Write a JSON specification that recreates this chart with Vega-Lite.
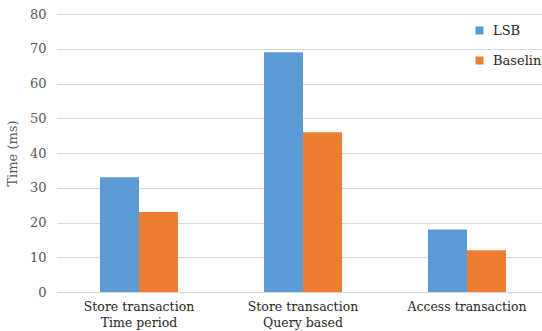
{
  "$schema": "https://vega.github.io/schema/vega-lite/v6.json",
  "autosize": "none",
  "width": 492,
  "height": 278,
  "padding": {"left": 57, "top": 14, "right": 0, "bottom": 39},
  "background": "white",
  "data": {
    "values": [
      {"category": "Store transaction|Time period", "series": "LSB", "time": 33},
      {"category": "Store transaction|Time period", "series": "Baseline", "time": 23},
      {"category": "Store transaction|Query based", "series": "LSB", "time": 69},
      {"category": "Store transaction|Query based", "series": "Baseline", "time": 46},
      {"category": "Access transaction", "series": "LSB", "time": 18},
      {"category": "Access transaction", "series": "Baseline", "time": 12}
    ]
  },
  "config": {
    "view": {"stroke": null},
    "font": "DejaVu Serif",
    "axis": {"labelFont": "DejaVu Serif", "titleFont": "DejaVu Serif"},
    "legend": {"labelFont": "DejaVu Serif"}
  },
  "mark": {"type": "bar"},
  "encoding": {
    "x": {
      "field": "category",
      "type": "nominal",
      "sort": null,
      "scale": {"paddingInner": 0.524, "paddingOuter": 0.262},
      "axis": {
        "title": null,
        "labelAngle": 0,
        "labelExpr": "split(datum.label, '|')",
        "labelFontSize": 12.5,
        "labelColor": "#262626",
        "labelLineHeight": 16,
        "labelPadding": 8,
        "ticks": false,
        "domain": false,
        "grid": false
      }
    },
    "xOffset": {"field": "series", "type": "nominal", "sort": ["LSB", "Baseline"]},
    "y": {
      "field": "time",
      "type": "quantitative",
      "scale": {"domain": [0, 80], "nice": false},
      "axis": {
        "title": "Time (ms)",
        "titleFontSize": 13,
        "titleFontWeight": "normal",
        "titleColor": "#595959",
        "titlePadding": 10,
        "values": [0, 10, 20, 30, 40, 50, 60, 70, 80],
        "labelFontSize": 13,
        "labelColor": "#595959",
        "labelPadding": 11,
        "ticks": false,
        "domain": false,
        "grid": true,
        "gridColor": "#d9d9d9",
        "gridWidth": 1
      }
    },
    "color": {
      "field": "series",
      "type": "nominal",
      "sort": ["LSB", "Baseline"],
      "scale": {"domain": ["LSB", "Baseline"], "range": ["#5B9BD5", "#ED7D31"]},
      "legend": {
        "title": null,
        "orient": "none",
        "legendX": 416,
        "legendY": 10,
        "symbolType": "square",
        "symbolSize": 64,
        "symbolStrokeWidth": 0,
        "labelFontSize": 13,
        "labelColor": "#262626",
        "labelOffset": 7,
        "rowPadding": 16
      }
    }
  }
}
